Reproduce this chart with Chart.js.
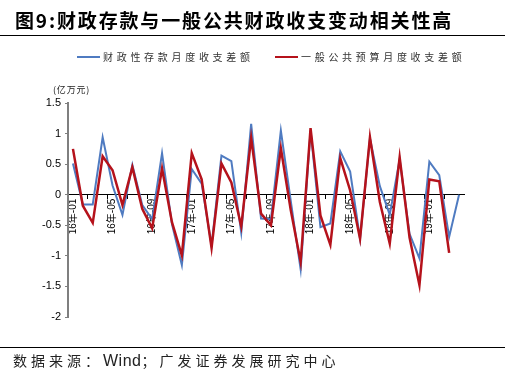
<!DOCTYPE html>
<html>
<head>
<meta charset="utf-8">
<script src="https://cdn.jsdelivr.net/npm/chart.js@4/dist/chart.umd.min.js"></script>
<style>
  body { margin:0; width:509px; height:382px; background:#fff; position:relative; overflow:hidden;
         font-family:"Noto Sans CJK SC","Liberation Sans",sans-serif; }
  #cv { position:absolute; left:0; top:0; }
  .title { position:absolute; left:15px; top:6px; font-size:19px; font-weight:bold; letter-spacing:1.85px; color:#000; white-space:nowrap; }
  .rule { position:absolute; left:0; width:505px; height:1px; background:#000; }
  .legend { position:absolute; top:49px; font-size:10px; letter-spacing:3.7px; color:#333; white-space:nowrap; display:flex; align-items:center; }
  .legend i { display:inline-block; width:23px; height:2px; margin-right:3px; }
  .unit { position:absolute; left:53px; top:83px; font-size:9px; letter-spacing:0.8px; color:#222; }
  .source { position:absolute; left:13px; top:350px; font-size:14px; letter-spacing:4px; color:#222; white-space:nowrap; }
  .source b { font-family:"Liberation Sans",Arial,sans-serif; font-weight:normal; font-size:16px; letter-spacing:0.5px; }
</style>
</head>
<body>
<canvas id="cv" width="509" height="382"></canvas>
<div class="title">图9:财政存款与一般公共财政收支变动相关性高</div>
<div class="rule" style="top:35px"></div>
<div class="legend" style="left:77px"><i style="background:#4f7bc1"></i>财政性存款月度收支差额</div>
<div class="legend" style="left:275px"><i style="background:#b5121b"></i>一般公共预算月度收支差额</div>
<div class="unit">(亿万元)</div>
<div class="rule" style="top:347px"></div>
<div class="source">数据来源：<b>Wind</b>；广发证券发展研究中心</div>

<script>
// months 2016-01 .. 2019-04
var months = [
  '16年-01','16年-02','16年-03','16年-04','16年-05','16年-06','16年-07','16年-08','16年-09','16年-10','16年-11','16年-12',
  '17年-01','17年-02','17年-03','17年-04','17年-05','17年-06','17年-07','17年-08','17年-09','17年-10','17年-11','17年-12',
  '18年-01','18年-02','18年-03','18年-04','18年-05','18年-06','18年-07','18年-08','18年-09','18年-10','18年-11','18年-12',
  '19年-01','19年-02','19年-03','19年-04'
]

var depositNames = '财政性存款月度收支差额'
var budgetNames = '一般公共预算月度收支差额'

// 财政性存款月度收支差额
var deposit = [
  0.51, -0.16, -0.16, 0.94, 0.15, -0.33, 0.49, -0.17, -0.40, 0.68,
  -0.48, -1.15, 0.42, 0.18, -0.83, 0.64, 0.55, -0.62, 1.16, -0.39,
  -0.40, 1.05, -0.10, -1.22, 1.05, -0.53, -0.47, 0.71, 0.38, -0.72,
  0.92, 0.14, -0.33, 0.58, -0.64, -1.04, 0.54, 0.32, -0.69, 0.00
]

// 一般公共预算月度收支差额
var budget = [
  0.75, -0.18, -0.46, 0.63, 0.40, -0.17, 0.45, -0.23, -0.55, 0.43,
  -0.45, -0.99, 0.68, 0.25, -0.87, 0.51, 0.20, -0.52, 0.93, -0.31,
  -0.50, 0.76, -0.25, -1.10, 1.09, -0.34, -0.82, 0.60, 0.07, -0.72,
  0.94, -0.12, -0.80, 0.61, -0.70, -1.48, 0.25, 0.22, -0.95, null
]

var yTicks = [1.5, 1, 0.5, 0, -0.5, -1, -1.5, -2]

var ctx = document.getElementById('cv').getContext('2d')
new Chart(ctx, {
  type: 'line',
  data: {
    labels: months,
    datasets: [{
      label: depositNames,
      data: deposit,
      borderColor: '#4f7bc1',
      borderWidth: 2,
      pointRadius: 0,
      tension: 0,
      order: 1
    }, {
      label: budgetNames,
      data: budget,
      borderColor: '#b5121b',
      borderWidth: 2.5,
      pointRadius: 0,
      tension: 0,
      order: 0
    }]
  },
  options: {
    responsive: false,
    animation: false,
    layout: {padding: {left: 0, right: 45, top: 103, bottom: 65}},
    plugins: {legend: {display: false}, tooltip: {enabled: false}},
    scales: {
      x: {
        type: 'category',
        offset: true,
        position: {y: 0},
        afterFit: function(s){ s.height = 0 },
        border: {color: '#000', width: 1},
        grid: {
          offset: true,
          drawOnChartArea: false,
          tickLength: 4,
          color: function(c){ return c.index % 2 === 0 ? '#000' : 'rgba(0,0,0,0)' }
        },
        ticks: {
          autoSkip: false,
          minRotation: 90,
          maxRotation: 90,
          padding: 0,
          color: '#000',
          font: {family: '"Liberation Sans", Arial, "Noto Sans CJK SC"', size: 10},
          callback: function(v, i){ return i % 4 === 0 ? months[i] : '' }
        }
      },
      y: {
        min: -2,
        max: 1.5,
        afterFit: function(s){ s.width = 68 },
        border: {color: '#7f7f7f', width: 2},
        grid: {drawOnChartArea: false, tickLength: 3, color: '#7f7f7f'},
        afterBuildTicks: function(s){ s.ticks = yTicks.map(function(v){ return {value: v} }) },
        ticks: {
          padding: 4,
          color: '#000',
          font: {family: '"Liberation Sans", Arial', size: 11},
          callback: function(v){ return String(v) }
        }
      }
    }
  }
})
</script>
</body>
</html>
